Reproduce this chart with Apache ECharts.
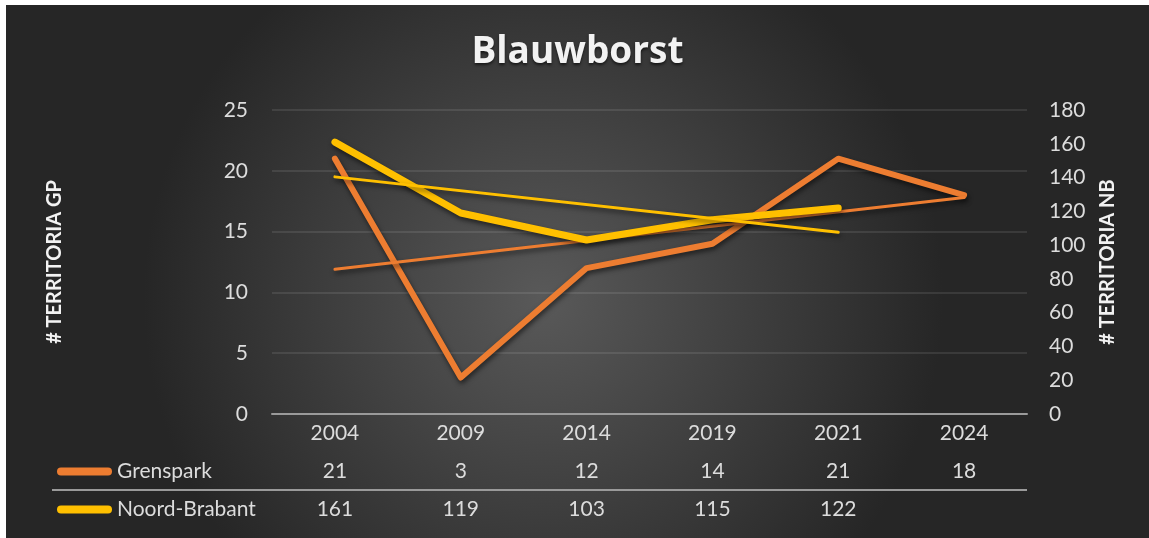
<!DOCTYPE html>
<html>
<head>
<meta charset="utf-8">
<script src="https://cdn.jsdelivr.net/npm/echarts@6/dist/echarts.min.js"></script>
<style>
  html, body { margin: 0; padding: 0; background: #fff; }
  #chart { position: absolute; left: 6px; top: 5px; width: 1143px; height: 533px; }
</style>
</head>
<body>
<div id="chart"></div>
<script>
// jaren en tellingen
var years = ['2004', '2009', '2014', '2019', '2021', '2024'];
var grenspark = [21, 3, 12, 14, 21, 18];
var noordBrabant = [161, 119, 103, 115, 122, null];
var trendGP = [11.9, null, null, null, null, 17.8];
var trendNB = [140.4, null, null, null, 107.6, null];

var labelColor = '#dcdcdc';
var font = 'Lato, "Open Sans", sans-serif';

var chart = echarts.init(document.getElementById('chart'));

var shadow = {
  shadowColor: 'rgba(0,0,0,0.55)',
  shadowBlur: 5,
  shadowOffsetX: 1,
  shadowOffsetY: 3
};

function lineStyle(color, width) {
  return Object.assign({ color: color, width: width, cap: 'round', join: 'round' }, shadow);
}

var capsule = 'path://M4,0 L51,0 A4,4 0 0 1 51,8 L4,8 A4,4 0 0 1 4,0 Z';

var option = {
  backgroundColor: {
    type: 'radial', x: 0.47, y: 0.55, r: 0.75,
    colorStops: [
      { offset: 0, color: '#595959' },
      { offset: 1, color: '#262626' }
    ]
  },
  textStyle: { fontFamily: font },
  title: {
    text: 'Blauwborst',
    left: 'center',
    top: 24,
    textStyle: {
      color: '#f2f2f2', fontSize: 37, fontWeight: 'bold', fontFamily: '"Open Sans", Lato, sans-serif',
      textShadowColor: 'rgba(0,0,0,0.6)', textShadowBlur: 3, textShadowOffsetY: 2
    }
  },
  legend: [
    {
      data: ['Grenspark'], left: 46, top: 451, selectedMode: false,
      itemWidth: 55, itemHeight: 8, icon: capsule,
      textStyle: { color: labelColor, fontSize: 21, fontFamily: font }
    },
    {
      data: ['Noord-Brabant'], left: 46, top: 489, selectedMode: false,
      itemWidth: 55, itemHeight: 8, icon: capsule,
      textStyle: { color: labelColor, fontSize: 21, fontFamily: font }
    }
  ],
  grid: { left: 266, right: 122, top: 105, bottom: 124 },
  xAxis: [
    {
      type: 'category', data: years,
      axisLine: { lineStyle: { color: '#9a9a9a', width: 2 } },
      axisTick: { show: false },
      axisLabel: { color: labelColor, fontSize: 21, margin: 9 }
    },
    {
      type: 'category', position: 'bottom', offset: 38,
      data: grenspark.map(function (v) { return v == null ? '' : String(v); }),
      axisLine: { show: false }, axisTick: { show: false },
      axisLabel: { color: labelColor, fontSize: 21, margin: 9 }
    },
    {
      type: 'category', position: 'bottom', offset: 76,
      data: noordBrabant.map(function (v) { return v == null ? '' : String(v); }),
      axisLine: { show: false }, axisTick: { show: false },
      axisLabel: { color: labelColor, fontSize: 21, margin: 9 }
    }
  ],
  yAxis: [
    {
      type: 'value', min: 0, max: 25, interval: 5,
      name: '# TERRITORIA GP', nameLocation: 'middle', nameRotate: 90, nameGap: 207,
      nameTextStyle: { color: '#f2f2f2', fontSize: 20, fontWeight: 'bold', fontFamily: font },
      axisLine: { show: false }, axisTick: { show: false },
      axisLabel: { color: labelColor, fontSize: 21, margin: 24 },
      splitLine: { lineStyle: { color: 'rgba(255,255,255,0.13)', width: 1.5 } }
    },
    {
      type: 'value', min: 0, max: 180, interval: 20, position: 'right',
      name: '# TERRITORIA NB', nameLocation: 'middle', nameRotate: 90, nameGap: 71,
      nameTextStyle: { color: '#f2f2f2', fontSize: 20, fontWeight: 'bold', fontFamily: font },
      axisLine: { show: false }, axisTick: { show: false },
      axisLabel: { color: labelColor, fontSize: 21, margin: 22 },
      splitLine: { show: false }
    }
  ],
  graphic: [
    {
      type: 'line',
      shape: { x1: 46, y1: 485, x2: 1021, y2: 485 },
      style: { stroke: '#9a9a9a', lineWidth: 2 }
    }
  ],
  series: [
    {
      name: 'Grenspark', type: 'line', yAxisIndex: 0, data: grenspark,
      symbol: 'none', color: '#ED7D31', z: 2,
      lineStyle: lineStyle('#ED7D31', 6)
    },
    {
      name: 'Trend Grenspark', type: 'line', yAxisIndex: 0, data: trendGP,
      connectNulls: true, symbol: 'none', color: '#ED7D31', z: 3,
      lineStyle: lineStyle('#ED7D31', 3)
    },
    {
      name: 'Noord-Brabant', type: 'line', yAxisIndex: 1, data: noordBrabant,
      symbol: 'none', color: '#FFC000', z: 4,
      lineStyle: lineStyle('#FFC000', 7)
    },
    {
      name: 'Trend Noord-Brabant', type: 'line', yAxisIndex: 1, data: trendNB,
      connectNulls: true, symbol: 'none', color: '#FFC000', z: 5,
      lineStyle: lineStyle('#FFC000', 3)
    }
  ]
};

chart.setOption(option);
</script>
</body>
</html>
